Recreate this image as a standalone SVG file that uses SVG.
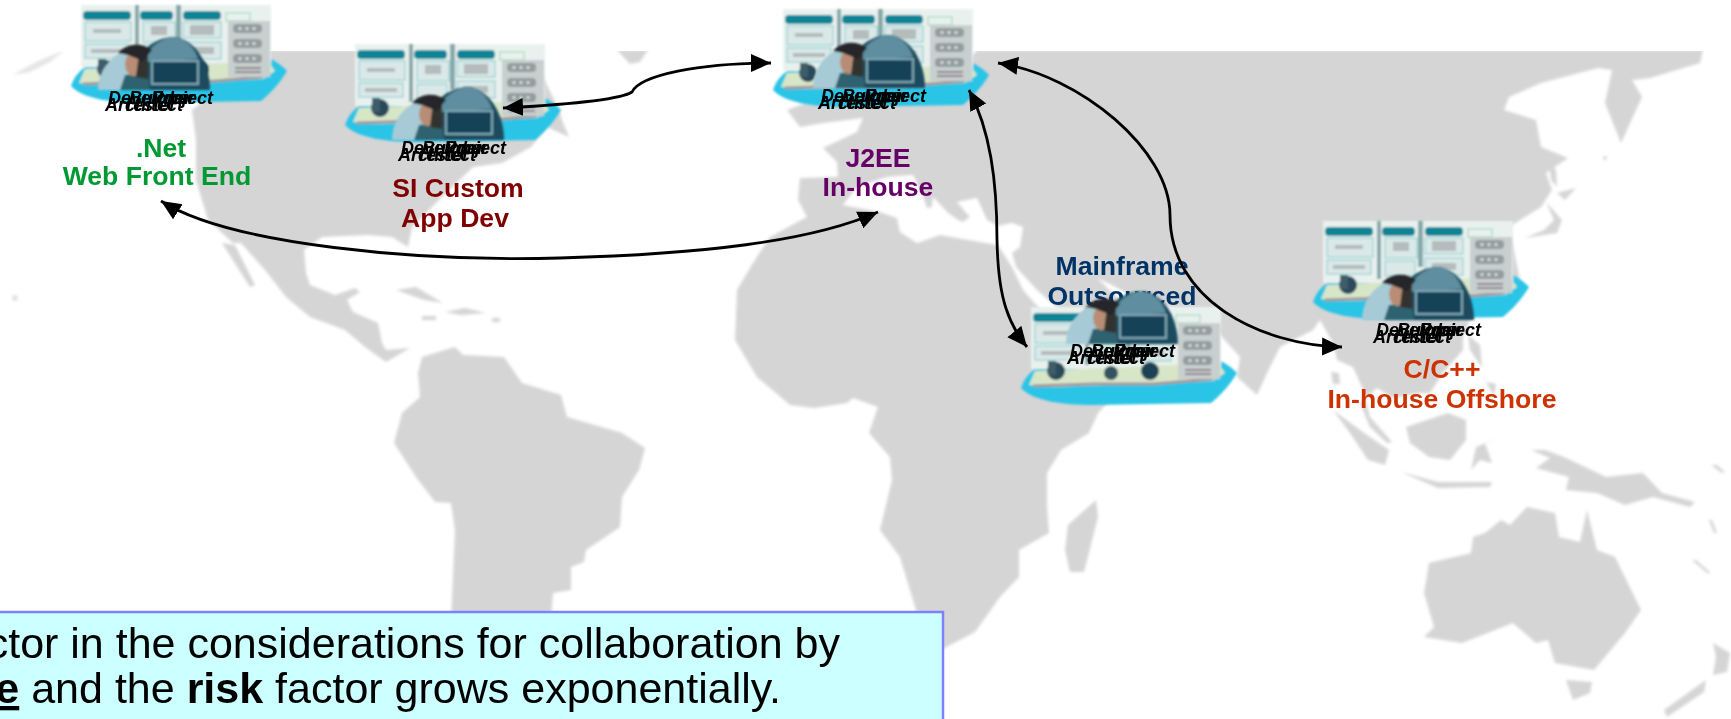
<svg xmlns="http://www.w3.org/2000/svg" width="1731" height="719" viewBox="0 0 1731 719">
<style>
.land{fill:#d5d5d5}
.sea{fill:#fff}
.lbl{font-family:"Liberation Sans",Arial,sans-serif;font-weight:bold;font-size:26.600px;text-anchor:middle}
.role{font-family:"Liberation Sans",Arial,sans-serif;font-weight:bold;font-style:italic;font-size:18px;fill:#000}
.note{font-family:"Liberation Sans",Arial,sans-serif;font-size:43px;fill:#000;text-anchor:end}
.b{font-weight:bold}
.conn{fill:none;stroke:#000;stroke-width:2.800;marker-start:url(#ah);marker-end:url(#ah)}
.hd{fill:#0f8596}
.bx{fill:#dbe8e8;stroke:#a4d6d6;stroke-width:1.500}
.gr{fill:#b4bcbc}
.pill{fill:#939d9d}
.dot{fill:#e2e6e6}
.bar{fill:#86a9ac}
</style>
<defs>
<filter id="soft" x="-5%" y="-5%" width="110%" height="110%"><feGaussianBlur stdDeviation="1.400"/></filter>
<filter id="fuzz" x="-5%" y="-5%" width="110%" height="110%"><feGaussianBlur stdDeviation="0.900"/></filter>
<clipPath id="mapclip"><rect x="0" y="51" width="1731" height="668"/></clipPath>
<marker id="ah" markerUnits="userSpaceOnUse" markerWidth="22" markerHeight="20" viewBox="0 0 22 20" refX="20" refY="10" orient="auto-start-reverse"><path d="M0,1 L20,10 L0,19 Z" fill="#000"/></marker>
<g id="panel" filter="url(#fuzz)">
<path d="M-12,75 C-8,62 2,55 12,50 L170,44 C182,44 192,48 204,60 C198,70 190,80 178,90 L60,92 C30,92 0,88 -12,75Z" fill="#2cc4e6"/>
<rect x="-2" y="-6" width="190" height="62" fill="#e9f1ee"/>
<path d="M2,58 L185,50 L192,60 L180,68 L20,74 L-4,72 Z" fill="#d8e6c8"/>
<circle cx="23" cy="58" r="9" fill="#2c4a5a"/><circle cx="78" cy="60" r="7" fill="#33525f"/><circle cx="117" cy="58" r="9" fill="#1f4354"/>
<rect x="15" y="48" width="8" height="14" fill="#3d5d68"/>
<path d="M0,73 L60,71 L120,71 L180,66" fill="none" stroke="#a59a9e" stroke-width="3"/>
<rect x="52" y="-6" width="4" height="58" class="bar"/><rect x="93" y="-6" width="5" height="46" class="bar"/>
<rect x="0" y="0" width="48" height="9" rx="4" class="hd"/><rect x="57" y="0" width="33" height="9" rx="4" class="hd"/><rect x="100" y="0" width="38" height="9" rx="4" class="hd"/>
<rect x="2" y="11" width="46" height="19" class="bx"/><rect x="2" y="33" width="44" height="14" class="bx"/><rect x="60" y="11" width="32" height="20" class="bx"/><rect x="60" y="34" width="30" height="15" class="bx"/><rect x="100" y="11" width="38" height="16" class="bx"/><rect x="100" y="31" width="38" height="17" class="bx"/>
<rect x="10" y="18" width="28" height="4" class="gr"/><rect x="8" y="38" width="32" height="4" class="gr"/><rect x="68" y="15" width="16" height="9" class="gr"/><rect x="107" y="14" width="24" height="10" class="gr"/><rect x="107" y="36" width="24" height="7" class="gr"/>
<rect x="143" y="2" width="24" height="8" fill="none" stroke="#bfe3cf" stroke-width="2"/>
<rect x="145" y="10" width="42" height="56" fill="#c8cfcf"/>
<rect x="150" y="13" width="29" height="9" rx="4" class="pill"/><rect x="150" y="28" width="29" height="9" rx="4" class="pill"/><rect x="150" y="43" width="29" height="9" rx="4" class="pill"/>
<circle cx="157" cy="17.500" r="1.500" class="dot"/><circle cx="164" cy="17.500" r="1.500" class="dot"/><circle cx="171" cy="17.500" r="1.500" class="dot"/>
<circle cx="157" cy="32.500" r="1.500" class="dot"/><circle cx="164" cy="32.500" r="1.500" class="dot"/><circle cx="171" cy="32.500" r="1.500" class="dot"/>
<circle cx="157" cy="47.500" r="1.500" class="dot"/><circle cx="164" cy="47.500" r="1.500" class="dot"/><circle cx="171" cy="47.500" r="1.500" class="dot"/>
<rect x="152" y="56" width="26" height="2" fill="#8d8287"/><rect x="152" y="60" width="26" height="2" fill="#8d8287"/>
</g>
<g id="dome" filter="url(#fuzz)">
<path d="M0,53 C0,35 10,20 30,12 L58,10 L58,53Z" fill="#a6cbd6"/>
<path d="M42,53 L42,18 C52,5 65,0 76,0 C96,2 112,25 112,53Z" fill="#1d4b5f"/>
<path d="M50,15 C58,4 70,0 76,0 C88,2 96,10 100,22 L50,25Z" fill="#5f8ea0"/>
<rect x="54" y="24" width="46" height="23" fill="#194358" stroke="#7ea7b4" stroke-width="2"/>
<path d="M22,53 L27,38 L50,36 L52,53Z" fill="#2f6270"/>
<ellipse cx="36" cy="27" rx="9" ry="12" fill="#b98d74"/>
<path d="M41,16 L50,18 L50,42 L38,40 Z" fill="#33302f"/>
<path d="M20,16 C30,5 45,6 54,13 L45,24 L30,18 Z" fill="#26262a"/>
</g>
</defs>

<g id="map" clip-path="url(#mapclip)">
<g filter="url(#soft)">
<path class="land" opacity=".6" d="M12,75 L40,60 L65,50 L50,62 L30,72 Z"/>
<circle class="land" opacity=".7" cx="15" cy="298" r="3"/>
<path class="land" d="M192,110 L196,140 L196,180 L208,220 L233,243 L241,243 L265,270 L286,297 L310,317 L345,330 L365,347 L386,362 L410,348 L386,350 L382,343 L378,323 L353,312 L347,300 L360,292 L355,288 L335,295 L310,285 L306,273 L304,250 L322,237 L367,235 L392,237 L408,247 L412,227 L449,190 L473,167 L502,163 L531,147 L547,127 L569,137 L563,123 L559,110 L530,50 L269,50 Z"/>
<path class="land" d="M222,243 L235,245 L255,285 L250,287 Z"/>
<path class="land" d="M617,50 L648,50 L640,62 L630,64 Z"/>
<path class="land" d="M396,290 L416,287 L443,303 L424,300 Z"/>
<path class="land" d="M445,312 L465,308 L486,313 L461,315 Z"/>
<rect class="land" x="422" y="316" width="14" height="4"/><rect class="land" x="492" y="318" width="8" height="4"/>
<path class="land" d="M422,357 L455,347 L463,355 L504,357 L522,383 L561,395 L567,417 L622,433 L645,448 L639,470 L622,497 L620,527 L586,550 L584,562 L571,567 L571,590 L553,593 L551,620 L451,620 L455,530 L451,503 L435,502 L416,477 L394,443 L402,413 L420,397 L418,373 Z"/>
<path class="land" d="M787,110 L800,127 L823,123 L863,118 L857,132 L823,148 L837,162 L838,177 L800,178 L798,200 L807,217 L770,237 L753,263 L737,290 L735,340 L757,377 L790,405 L814,408 L847,403 L853,398 L878,407 L869,433 L890,457 L892,480 L880,530 L900,557 L916,610 L925,660 L950,645 L975,632 L1000,597 L1019,577 L1019,550 L1049,533 L1047,507 L1047,473 L1061,450 L1089,433 L1098,413 L1120,390 L1085,350 L1063,335 L1023,290 L1012,267 L1016,267 L1037,290 L1063,313 L1100,340 L1170,330 L1120,300 L1097,278 L1110,284 L1130,295 L1170,307 L1213,327 L1240,357 L1237,377 L1257,395 L1267,373 L1280,347 L1313,330 L1320,320 L1333,343 L1337,360 L1353,367 L1362,387 L1370,417 L1392,442 L1387,443 L1370,427 L1360,403 L1377,388 L1393,398 L1420,393 L1430,393 L1443,373 L1463,350 L1463,337 L1470,320 L1520,280 L1509,227 L1541,207 L1552,190 L1546,173 L1568,158 L1541,147 L1536,120 L1504,110 L1509,97 L1541,83 L1598,68 L1612,70 L1605,103 L1621,143 L1642,97 L1632,80 L1650,78 L1700,63 L1703,50 L977,50 L960,70 L840,90 Z"/>
<path class="sea" d="M843,205 L857,187 L887,177 L913,175 L923,197 L927,208 L932,207 L933,197 L948,213 L958,220 L963,222 L970,217 L957,202 L977,198 L987,220 L998,226 L1012,223 L1023,227 L1020,247 L1012,253 L1016,267 L1012,267 L998,245 L940,235 L917,243 L900,232 L897,218 L880,212 Z"/>
<path class="land" d="M1096,500 L1098,517 L1084,572 L1070,572 L1065,550 L1068,525 Z"/>
<path class="land" d="M1331,372 L1339,373 L1340,384 L1333,384 Z"/>
<path class="land" d="M1468,335 L1480,345 L1482,368 L1470,350 Z"/>
<path class="land" d="M1486,382 L1496,384 L1494,396 Z"/>
<path class="land" d="M1546,202 L1562,220 L1557,233 L1525,238 L1544,230 L1554,220 Z"/>
<path class="land" d="M1557,193 L1576,188 L1565,200 Z"/>
<path class="land" d="M1549,163 L1556,170 L1557,187 L1551,180 Z"/>
<circle class="land" cx="1605" cy="158" r="2"/>
<path class="land" d="M1333,410 L1364,433 L1389,450 L1385,465 L1368,460 L1350,433 Z"/>
<path class="land" d="M1406,427 L1448,413 L1466,420 L1466,440 L1450,460 L1429,457 L1410,443 Z"/>
<path class="land" d="M1471,470 L1476,447 L1501,437 L1485,443 L1492,463 L1480,460 Z"/>
<path class="land" d="M1401,472 L1438,482 L1492,482 L1490,487 L1438,488 Z"/>
<path class="land" d="M1531,450 L1545,450 L1564,457 L1606,477 L1643,473 L1662,493 L1695,502 L1690,507 L1653,497 L1625,505 L1597,493 L1566,490 L1569,477 L1536,468 L1550,458 Z"/>
<path class="land" d="M1527,507 L1555,513 L1559,537 L1580,542 L1587,510 L1597,550 L1615,557 L1641,610 L1625,633 L1594,670 L1555,663 L1548,640 L1536,643 L1513,623 L1462,643 L1424,637 L1434,627 L1424,593 L1429,563 L1471,553 L1473,537 L1485,533 L1501,520 L1510,525 Z"/>
<path class="land" d="M1566,680 L1592,682 L1590,693 L1573,700 Z"/>
<path class="land" d="M1713,643 L1730,653 L1727,672 L1713,675 L1716,657 Z"/>
<path class="land" d="M1706,680 L1704,692 L1667,717 L1664,710 Z"/>
<path class="land" d="M1709,520 L1712,520 L1717,533 L1714,533 Z"/>
<path class="land" d="M1692,560 L1696,560 L1711,573 L1707,573 Z"/>
<path class="land" d="M1711,465 L1717,465 L1725,472 L1722,473 Z"/>
</g>
</g>

<g id="node-net">
<text class="lbl" fill="#009933"><tspan x="161" y="157">.Net</tspan><tspan x="157" y="185">Web Front End</tspan></text>
<use href="#panel" x="83" y="11"/><use href="#dome" x="98" y="37"/>
<g transform="translate(105,90)"><text class="role" x="3" y="14">Developer</text><text class="role" x="24" y="14">Builder</text><text class="role" x="47" y="14">Project</text><text class="role" x="0" y="21">Architect</text><text class="role" x="18" y="21">Tester</text></g>
</g>
<g id="node-si">
<text class="lbl" fill="#800000"><tspan x="458" y="197">SI Custom</tspan><tspan x="455" y="227">App Dev</tspan></text>
<use href="#panel" x="357" y="50"/><use href="#dome" x="392" y="87"/>
<g transform="translate(398,140)"><text class="role" x="3" y="14">Developer</text><text class="role" x="24" y="14">Builder</text><text class="role" x="47" y="14">Project</text><text class="role" x="0" y="21">Architect</text><text class="role" x="18" y="21">Tester</text></g>
</g>
<g id="node-j2ee">
<text class="lbl" fill="#660066"><tspan x="878" y="167">J2EE</tspan><tspan x="878" y="196">In-house</tspan></text>
<use href="#panel" x="785" y="15"/><use href="#dome" x="813" y="35"/>
<g transform="translate(818,88)"><text class="role" x="3" y="14">Developer</text><text class="role" x="24" y="14">Builder</text><text class="role" x="47" y="14">Project</text><text class="role" x="0" y="21">Architect</text><text class="role" x="18" y="21">Tester</text></g>
</g>
<g id="node-mainframe">
<text class="lbl" fill="#003366"><tspan x="1122" y="275">Mainframe</tspan><tspan x="1122" y="305">Outsourced</tspan></text>
<use href="#panel" x="1033" y="313"/><use href="#dome" x="1066" y="291"/>
<g transform="translate(1067,343)"><text class="role" x="3" y="14">Developer</text><text class="role" x="24" y="14">Builder</text><text class="role" x="47" y="14">Project</text><text class="role" x="0" y="21">Architect</text><text class="role" x="18" y="21">Tester</text></g>
</g>
<g id="node-cpp">
<text class="lbl" fill="#cc3300"><tspan x="1442" y="378">C/C++</tspan><tspan x="1442" y="408">In-house Offshore</tspan></text>
<use href="#panel" x="1325" y="227"/><use href="#dome" x="1362" y="267"/>
<g transform="translate(1373,322)"><text class="role" x="3" y="14">Developer</text><text class="role" x="24" y="14">Builder</text><text class="role" x="47" y="14">Project</text><text class="role" x="0" y="21">Architect</text><text class="role" x="18" y="21">Tester</text></g>
</g>

<g id="connectors">
<path class="conn" d="M503,108 C560,105 620,100 632,92 C640,75 700,63 771,63"/>
<path class="conn" d="M161,201 C230,245 420,262 560,258 C700,254 810,242 878,212"/>
<path class="conn" d="M969,90 C990,130 997,180 997,240 C998,290 1005,320 1027,347"/>
<path class="conn" d="M998,63 C1080,75 1170,150 1170,215 C1170,300 1260,345 1342,347"/>
</g>

<g id="note">
<rect x="-4" y="612" width="947" height="112" fill="#ccffff" stroke="#8080ff" stroke-width="2.500"/>
<text class="note" x="840" y="658">ctor in the considerations for collaboration by</text>
<text class="note" x="781" y="703"><tspan class="b" text-decoration="underline">e</tspan> and the <tspan class="b">risk</tspan> factor grows exponentially.</text>
</g>
</svg>
